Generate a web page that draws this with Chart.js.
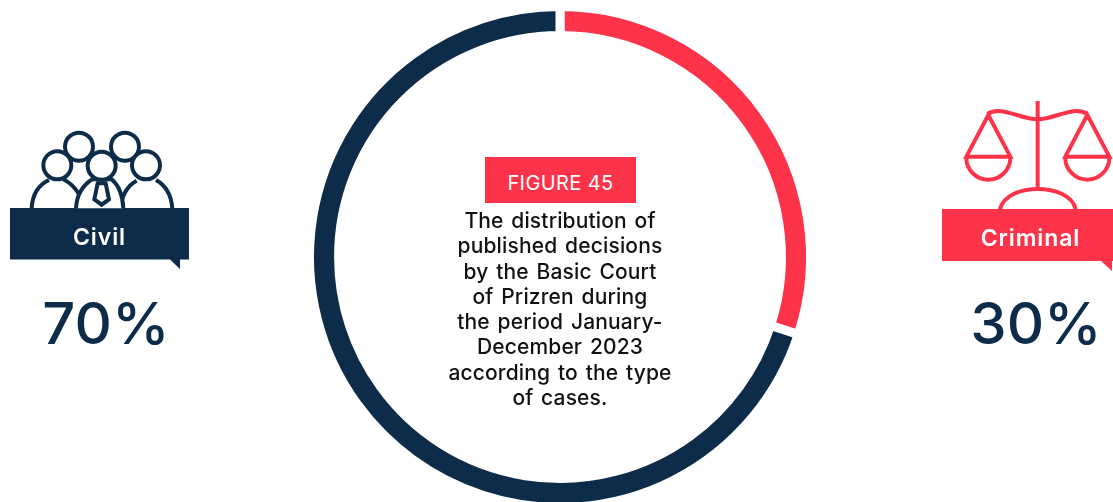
<!DOCTYPE html>
<html>
<head>
<meta charset="utf-8">
<script src="https://cdn.jsdelivr.net/npm/chart.js@4"></script>
<style>
  html, body { margin: 0; padding: 0; background: #fff; overflow: hidden; }
  #wrap { position: relative; width: 1113px; height: 502px; overflow: hidden; font-family: Inter, sans-serif; }
  #chart { position: absolute; left: 0; top: 0; }
  #icons { position: absolute; left: 0; top: 0; }
  .t { position: absolute; text-align: center; white-space: nowrap; }
  .banner { font-size: 23px; font-weight: 600; color: #fff; line-height: 26px; letter-spacing: 0.9px; }
  .pct { font-size: 58px; font-weight: 500; color: #0d2c4a; line-height: 60px; }
  #figure { left: 485px; top: 157px; width: 151px; height: 46px; line-height: 52px; background: #fd3349; color: #fff; font-size: 20px; font-weight: 400; letter-spacing: 0.4px; }
  #desc { left: 410px; top: 208px; width: 300px; font-size: 21px; font-weight: 500; line-height: 25.3px; letter-spacing: 0.15px; word-spacing: 2px; color: #111; }
</style>
</head>
<body>
<div id="wrap">
  <canvas id="chart" width="1113" height="540"></canvas>
  <svg id="icons" width="1113" height="502" viewBox="0 0 1113 502">
    <!-- banners -->
    <path d="M10 208H189V259.5H180V269L170 259.5H10Z" fill="#0d2c4a"/>
    <path d="M942 209H1113V261H1112V271L1101 261H942Z" fill="#fd3349"/>
    <!-- people icon, drawn in crop coordinates -->
    <g transform="translate(0,120) scale(0.3333)" fill="none" stroke="#0d2c4a" stroke-width="12">
      <circle cx="237" cy="80" r="42"/>
      <circle cx="375" cy="80" r="42"/>
      <path d="M95 265C97 225 115 195 147 180M190 178C210 188 226 204 238 224"/>
      <path d="M362 265C364 225 385 195 410 182M468 180C495 195 514 225 517 265"/>
      <path fill="#fff" d="M228 265C230 225 250 195 276 178L335 178C355 195 368 225 370 265"/>
      <path d="M293 190L283 238L305 254L327 238L317 190Z"/>
      <circle cx="172" cy="136" r="42" fill="#fff"/>
      <circle cx="305" cy="137" r="42" fill="#fff"/>
      <circle cx="438" cy="136" r="42" fill="#fff"/>
    </g>
    <!-- scales icon -->
    <g transform="translate(930,90) scale(0.3333)" fill="none" stroke="#fd3349" stroke-width="12">
      <path d="M323 33V297"/>
      <path d="M172 72C215 45 270 88 323 88C375 88 430 45 472 72"/>
      <path d="M175 75L109 200H241Z"/>
      <path d="M472 75L406 200H538Z"/>
      <path d="M109 203A66 66 0 0 0 241 203"/>
      <path d="M406 203A66 66 0 0 0 538 203"/>
      <path d="M210 358C220 315 275 297 323 297C372 297 428 315 437 358"/>
    </g>
  </svg>
  <div class="t banner" id="lab0" style="left:10px;top:224px;width:179px"></div>
  <div class="t banner" id="lab1" style="left:945px;top:225px;width:171px"></div>
  <div class="t pct" id="pct0" style="left:12px;top:293px;width:188px"></div>
  <div class="t pct" id="pct1" style="left:943px;top:293px;width:186px"></div>
  <div class="t" id="figure"></div>
  <div class="t" id="desc"></div>
</div>
<script>
  var categories = ['Criminal', 'Civil'];
  var shares = [30, 70];
  var colors = ['#fd3349', '#0d2c4a'];
  var figureTitle = 'FIGURE 45';
  var descLines = [
    'The distribution of',
    'published decisions',
    'by the Basic Court',
    'of Prizren during',
    'the period January-',
    'December 2023',
    'according to the type',
    'of cases.'
  ];

  document.getElementById('lab0').textContent = categories[1];
  document.getElementById('lab1').textContent = categories[0];
  document.getElementById('pct0').textContent = shares[1] + '%';
  document.getElementById('pct1').textContent = shares[0] + '%';
  document.getElementById('figure').textContent = figureTitle;
  document.getElementById('desc').innerHTML = descLines.join('<br>');

  // white border makes the straight gaps between the two arcs, canvas runs past the page bottom
  var chart = new Chart(document.getElementById('chart'), {
    type: 'doughnut',
    data: {
      labels: categories,
      datasets: [{
        data: shares,
        backgroundColor: colors,
        borderColor: '#ffffff',
        borderWidth: 9
      }]
    },
    options: {
      responsive: false,
      animation: false,
      cutout: '88.4%',
      layout: { padding: { left: 7, top: 2, right: 0, bottom: 28 } },
      plugins: { legend: { display: false }, tooltip: { enabled: false } }
    }
  });
</script>
</body>
</html>
